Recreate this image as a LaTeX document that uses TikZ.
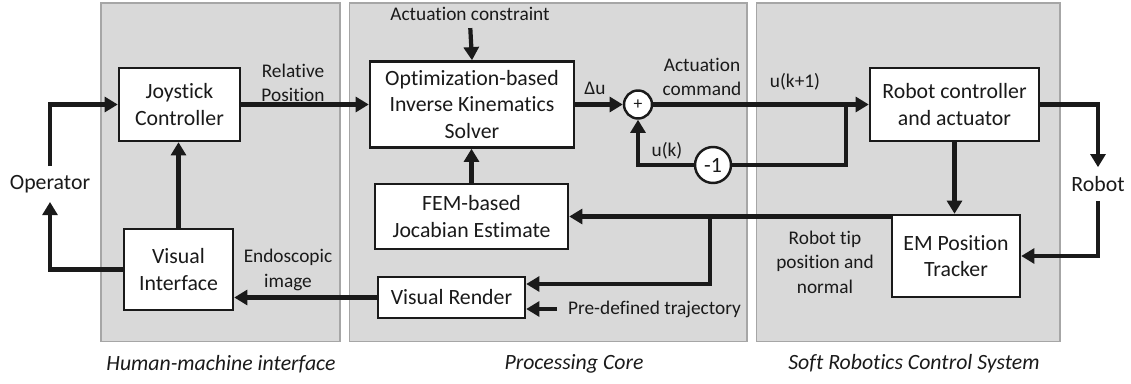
\documentclass[tikz,border=0pt]{standalone}
\usepackage{fontspec}
\setmainfont{Carlito}[Ligatures=NoCommon]
\usepackage{tikz}
\usetikzlibrary{positioning,arrows.meta,calc}
\definecolor{panelgray}{HTML}{D9D9D9}
\definecolor{paneledge}{HTML}{A6A6A6}
\definecolor{ink}{HTML}{1A1A1A}
\tikzset{
  blockbox/.style={draw=ink, line width=1.4pt, fill=white, align=center, inner xsep=2pt, inner ysep=1pt, text=ink, font=\fontsize{12.4}{15}\selectfont},
  sumnode/.style={circle, draw=ink, line width=1.4pt, fill=white, inner sep=0pt, text=ink},
  panelbox/.style={draw=paneledge, line width=0.6pt, fill=panelgray, inner sep=0pt, minimum height=6.78cm},
  capnode/.style={text=ink, font=\fontsize{12.4}{15}\selectfont\itshape},
  sidelabel/.style={align=center, text=ink, font=\fontsize{11}{14}\selectfont, inner sep=1pt},
  endnode/.style={text=ink, font=\fontsize{12.4}{15}\selectfont, inner xsep=2pt, inner ysep=5pt},
  flowarrow/.style={-{Triangle[length=7.5pt,width=8.5pt]}, line width=2.4pt, draw=ink},
  flowline/.style={line width=2.4pt, draw=ink}
}

\begin{document}
\begin{tikzpicture}[x=0.02cm, y=-0.02cm]
  \useasboundingbox (0,0) rectangle (1131,384);
  % panels
  \node[panelbox, minimum width=4.78cm] (hmi) at (220.5,172.5) {};
  \node[panelbox, minimum width=7.96cm] (core) at (548,172.5) {};
  \node[panelbox, minimum width=6.08cm] (soft) at (908,172.5) {};
  \node[capnode] (hmicap) at (221,364) {Human-machine interface};
  \node[capnode] (corecap) at (574,364) {Processing Core};
  \node[capnode] (softcap) at (914,364) {Soft Robotics Control System};
  % blocks
  \node[endnode] (oper) at (50,184) {Operator};
  \node[endnode] (robot) at (1098,184) {Robot};
  \node[blockbox, minimum width=2.42cm, minimum height=1.46cm] (joy) at (179.5,104.5) {Joystick\\Controller};
  \node[blockbox, minimum width=2.18cm, minimum height=1.62cm] (vis) at (178.5,269.5) {Visual\\Interface};
  \node[blockbox, minimum width=4.08cm, minimum height=1.72cm] (opt) at (472,104.5) {Optimization-based\\Inverse Kinematics\\Solver};
  \node[blockbox, minimum width=3.86cm, minimum height=1.30cm] (fem) at (471.5,216.5) {FEM-based\\Jocabian Estimate};
  \node[blockbox, minimum width=2.94cm, minimum height=0.82cm] (rend) at (451.5,297.5) {Visual Render};
  \node[blockbox, minimum width=3.38cm, minimum height=1.46cm] (robc) at (954.5,104.5) {Robot controller\\and actuator};
  \node[blockbox, minimum width=2.56cm, minimum height=1.64cm] (emt) at (956,256) {EM Position\\Tracker};
  \node[sumnode, minimum size=0.56cm, font=\fontsize{10}{12}\selectfont] (sum) at (638,104.5) {+};
  \node[sumnode, minimum size=0.72cm, font=\fontsize{12.4}{15}\selectfont] (neg) at (713,165) {-1};
  % labels
  \node[sidelabel] (cons) at (470,14) {Actuation constraint};
  \node[sidelabel] (rel) at (293,83) {Relative\\Position};
  \node[sidelabel] (endo) at (288,270) {Endoscopic\\image};
  \node[sidelabel] (du) at (595,88) {Δu};
  \node[sidelabel] (cmd) at (702,77) {Actuation\\command};
  \node[sidelabel] (uk) at (667,151) {u(k)};
  \node[sidelabel] (ukp) at (795,82) {u(k+1)};
  \node[sidelabel] (tip) at (825,262) {Robot tip\\position and\\normal};
  \node[sidelabel, anchor=west] (traj) at (566,309) {Pre-defined trajectory};
  % connectors
  \coordinate (jn) at ($(robc.west)+(-23,0)$);
  \coordinate (tap) at (emt.west |- fem.east);
  \coordinate (br) at ($(fem.east)+(141,0)$);
  \draw[flowarrow] (oper.north) |- (joy.west);
  \draw[flowarrow] (vis.west) -| (oper.south);
  \draw[flowarrow] (vis.north) -- (vis.north |- joy.south);
  \draw[flowarrow] (joy.east) -- (joy.east -| opt.west);
  \draw[flowarrow, shorten <=3pt] (cons.south) -- (opt.north);
  \draw[flowarrow] (fem.north) -- (fem.north |- opt.south);
  \draw[flowarrow] (opt.east) -- (sum.west);
  \draw[flowarrow] (sum.east) -- (robc.west);
  \draw[flowline] (jn) |- (neg.east);
  \draw[flowarrow] (neg.west) -| (sum.south);
  \draw[flowarrow] (robc.east) -| (robot.north);
  \draw[flowarrow] (robot.south) |- (emt.east);
  \draw[flowarrow] (robc.south) -- (robc.south |- emt.north);
  \draw[flowarrow] (tap) -- (fem.east);
  \draw[flowarrow] (br) |- ([yshift=0.27cm]rend.east);
  \draw[flowarrow] (rend.west) -- (rend.west -| vis.east);
  \draw[flowarrow] ([xshift=-0.18cm]traj.west) -- (rend.east |- traj.west);
\end{tikzpicture}
\end{document}
